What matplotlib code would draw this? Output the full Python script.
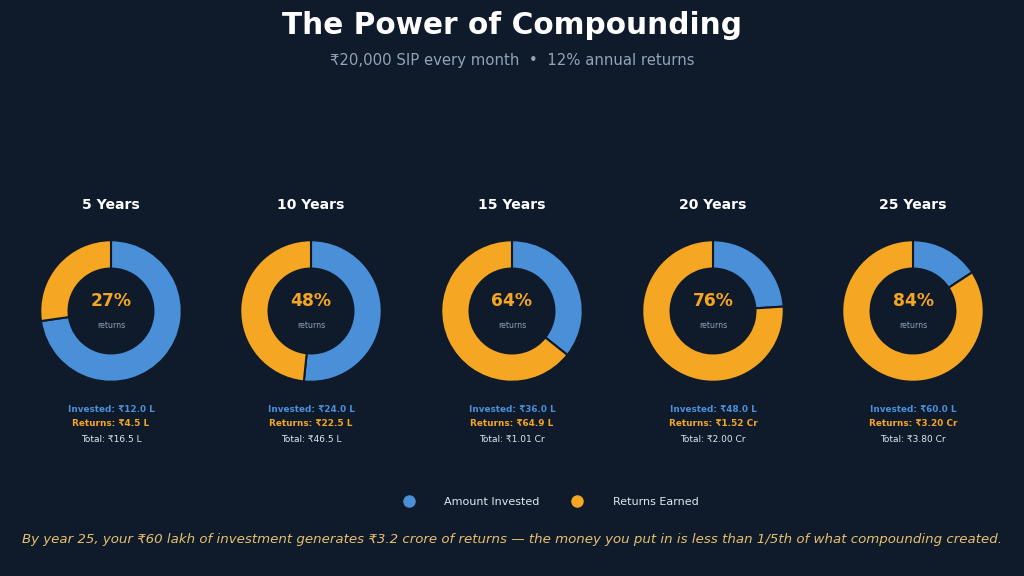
import matplotlib
matplotlib.use("Agg")
import matplotlib.pyplot as plt
from matplotlib.lines import Line2D

# ---- data ----
periods = ["5 Years", "10 Years", "15 Years", "20 Years", "25 Years"]
invested_lakh = [12.0, 24.0, 36.0, 48.0, 60.0]
returns_lakh = [4.5, 22.5, 64.9, 152.0, 320.0]
series_names = ["Amount Invested", "Returns Earned"]
title = "The Power of Compounding"
subtitle = "₹20,000 SIP every month  •  12% annual returns"
footer = ("By year 25, your ₹60 lakh of investment generates ₹3.2 crore of returns — "
          "the money you put in is less than 1/5th of what compounding created.")

# ---- style ----
BG = "#0f1a2b"
BLUE = "#4a90d9"
ORANGE = "#f5a623"
MUTED = "#94a3b8"
LIGHT = "#e2e8f0"
FOOT = "#e6c16f"

W, H = 1024, 576
fig = plt.figure(figsize=(W / 100, H / 100), dpi=100, facecolor=BG)


def fx(x):
    return x / W


def fy(y):
    return 1 - y / H


def fmt(v):
    if v >= 100:
        return f"₹{v / 100:.2f} Cr"
    return f"₹{v:.1f} L"


fig.text(fx(512), fy(25), title, ha="center", va="center", fontsize=21.3,
         fontweight="bold", color="white")
fig.text(fx(512), fy(61), subtitle, ha="center", va="center", fontsize=10.7,
         color=MUTED)

centers = [111, 311, 512, 713, 913]
cy = 311
size = 150
for cx, name, inv, ret in zip(centers, periods, invested_lakh, returns_lakh):
    ax = fig.add_axes([fx(cx - size / 2), fy(cy + size / 2), size / W, size / H])
    ax.set_facecolor(BG)
    ax.pie([inv, ret], colors=[BLUE, ORANGE], startangle=90, counterclock=False,
           radius=1.0, wedgeprops=dict(width=0.4, edgecolor=BG, linewidth=1.5))
    ax.set_xlim(-1.06, 1.06)
    ax.set_ylim(-1.06, 1.06)
    ax.set_aspect("equal")
    ax.axis("off")
    total = inv + ret
    pct = ret / total * 100
    fig.text(fx(cx), fy(205), name, ha="center", va="center", fontsize=10.1,
             fontweight="bold", color="white")
    fig.text(fx(cx), fy(301), f"{pct:.0f}%", ha="center", va="center",
             fontsize=12.3, fontweight="bold", color=ORANGE)
    fig.text(fx(cx), fy(326), "returns", ha="center", va="center", fontsize=5.6,
             color=MUTED)
    fig.text(fx(cx), fy(410), f"Invested: {fmt(inv)}", ha="center", va="center",
             fontsize=6.4, fontweight="bold", color=BLUE)
    fig.text(fx(cx), fy(424), f"Returns: {fmt(ret)}", ha="center", va="center",
             fontsize=6.4, fontweight="bold", color=ORANGE)
    fig.text(fx(cx), fy(440), f"Total: {fmt(total)}", ha="center", va="center",
             fontsize=6.5, color=LIGHT)

handles = [Line2D([], [], marker="o", linestyle="", markersize=8,
                  markerfacecolor=c, markeredgecolor=c) for c in (BLUE, ORANGE)]
fig.legend(handles, series_names, loc="center", bbox_to_anchor=(fx(548), fy(502)),
           ncol=2, frameon=False, fontsize=8.0, labelcolor=LIGHT,
           handlelength=2.0, handletextpad=2.2, columnspacing=2.4)

fig.text(fx(512), fy(540), footer, ha="center", va="center", fontsize=9.65,
         style="italic", color=FOOT)

fig.savefig("out.png", dpi=100, facecolor=BG)
